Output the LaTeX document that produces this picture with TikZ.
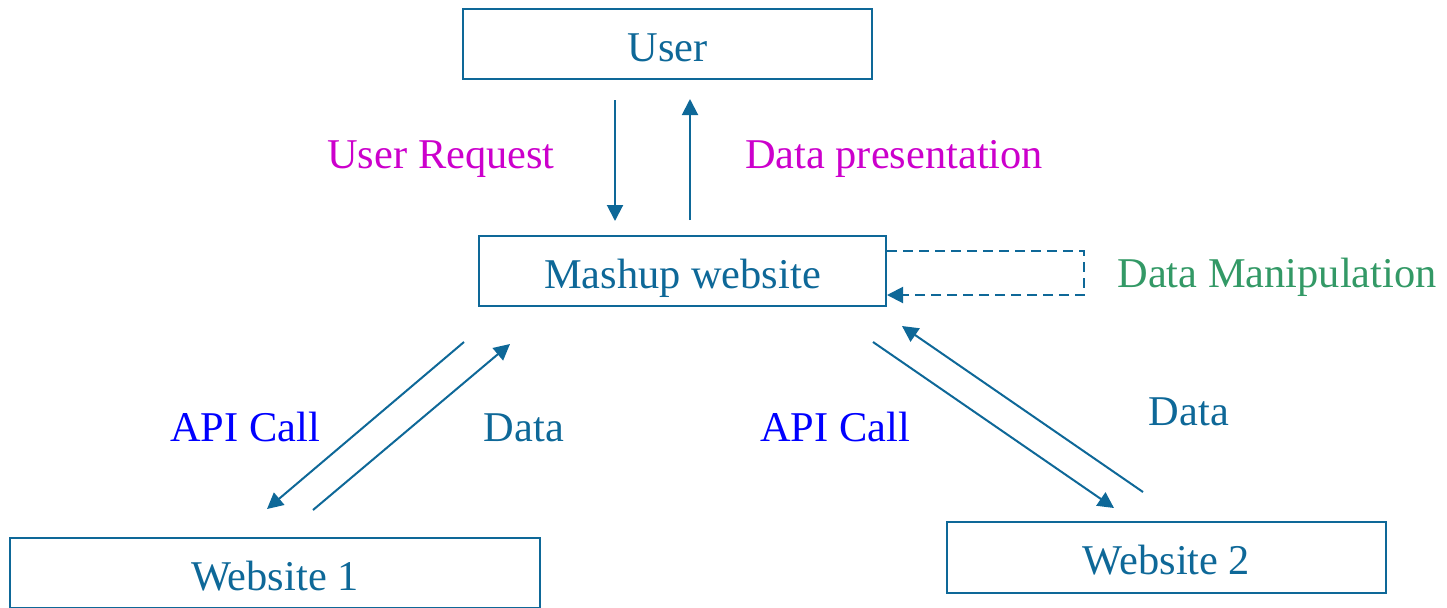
\documentclass[tikz,border=0pt]{standalone}
\usepackage{fontspec}
\setmainfont{Liberation Serif}
\usetikzlibrary{arrows.meta}
\definecolor{flow}{RGB}{14,104,152}
\definecolor{req}{RGB}{204,0,204}
\definecolor{manip}{RGB}{51,153,102}
\definecolor{apicol}{RGB}{0,0,255}
\tikzset{
  box/.style={draw=flow, line width=1pt, text=flow, inner sep=0pt,
    text height=17pt, text depth=0pt, font=\fontsize{21.2}{25}\selectfont},
  lbl/.style={inner sep=0pt, anchor=base, font=\fontsize{21.2}{25}\selectfont},
  flowarrow/.style={draw=flow, line width=1pt, -{Triangle[length=8pt,width=8pt]}},
}
\begin{document}
\begin{tikzpicture}[x=0.5pt, y=-0.5pt]
\useasboundingbox (0,0) rectangle (1447,607);
% boxes
\node[box, minimum width=204.5pt, minimum height=35pt] (user) at (667.5,44) {User};
\node[box, minimum width=203.5pt, minimum height=35pt] (mashup) at (682.5,271) {Mashup website};
\node[box, minimum width=265pt, minimum height=35pt] (w1) at (275,573) {Website 1};
\node[box, minimum width=219.5pt, minimum height=35.5pt] (w2) at (1166.5,557.5) {Website 2};
% endpoints of the connectors
\coordinate (reqA) at (615,100);
\coordinate (reqB) at (615,221);
\coordinate (presA) at (690,220);
\coordinate (presB) at (690,99);
\coordinate (apiLA) at (464,342);
\coordinate (apiLB) at (267,509);
\coordinate (datLA) at (313,510);
\coordinate (datLB) at (510,344);
\coordinate (apiRA) at (873,342);
\coordinate (apiRB) at (1114,508);
\coordinate (datRA) at (1143,492);
\coordinate (datRB) at (902,326);
% connectors
\draw[flowarrow] (reqA) -- (reqB);
\draw[flowarrow] (presA) -- (presB);
\draw[flowarrow] (apiLA) -- (apiLB);
\draw[flowarrow] (datLA) -- (datLB);
\draw[flowarrow] (apiRA) -- (apiRB);
\draw[flowarrow] (datRA) -- (datRB);
% self loop on the mashup site
\coordinate (loopOut) at ([yshift=10pt]mashup.east);
\coordinate (loopIn) at ([yshift=-12pt]mashup.east);
\coordinate (loopTR) at (1084,251);
\coordinate (loopBR) at (1084,295);
\draw[flowarrow, dash pattern=on 5pt off 3pt]
  (loopOut) -- (loopTR) -- (loopBR) -- (loopIn);
% labels
\node[lbl, text=req] (lreq) at (441,168) {User Request};
\node[lbl, text=req] (lpres) at (894,168) {Data presentation};
\node[lbl, text=manip] (lman) at (1277,287) {Data Manipulation};
\node[lbl, text=apicol] (lapiL) at (245,441) {API Call};
\node[lbl, text=flow] (ldatL) at (524,441) {Data};
\node[lbl, text=apicol] (lapiR) at (835,441) {API Call};
\node[lbl, text=flow] (ldatR) at (1189,425) {Data};
\end{tikzpicture}
\end{document}
